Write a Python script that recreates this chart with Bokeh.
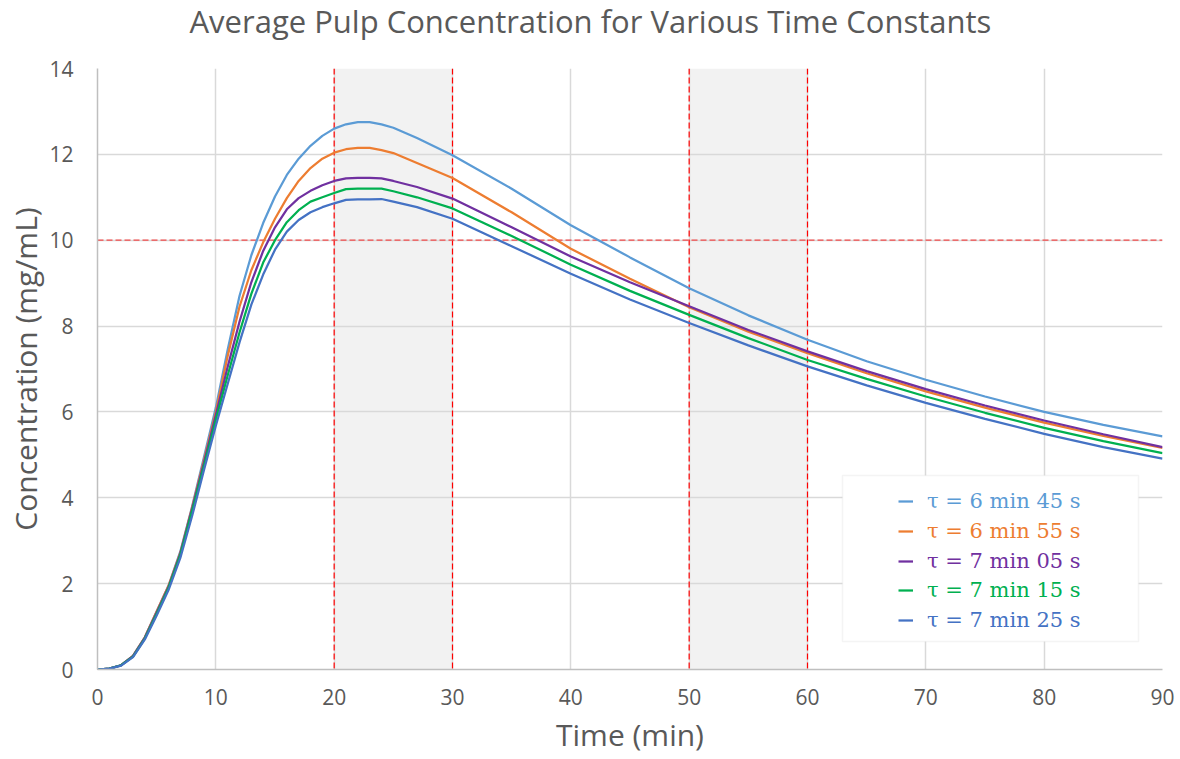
from bokeh.plotting import figure
from bokeh.models import Range1d, Span, BoxAnnotation, Legend, LegendItem, FixedTicker, Title
from bokeh.embed import file_html
from bokeh.resources import INLINE

# ---------------- data ----------------
time_min = [0, 1, 2, 3, 4, 5, 6, 7, 8, 9, 10, 11, 12, 13, 14, 15, 16, 17, 18, 19,
            20, 21, 22, 23, 24, 25, 27, 30, 35, 40, 45, 50, 55, 60, 65, 70, 75, 80, 85, 90]

tau_6m45s = [0, 0.02, 0.1, 0.32, 0.75, 1.35, 1.95, 2.75, 3.8, 4.95, 6.1, 7.45, 8.7, 9.65, 10.4,
             11.02, 11.52, 11.9, 12.2, 12.43, 12.6, 12.7, 12.75, 12.75, 12.7, 12.62, 12.38, 11.98,
             11.2, 10.35, 9.6, 8.88, 8.25, 7.68, 7.18, 6.75, 6.36, 6.0, 5.7, 5.43]
tau_6m55s = [0, 0.02, 0.1, 0.32, 0.75, 1.35, 1.95, 2.72, 3.78, 4.88, 6.0, 7.3, 8.45, 9.3, 9.95,
             10.5, 10.98, 11.38, 11.68, 11.9, 12.04, 12.12, 12.15, 12.15, 12.1, 12.03, 11.8, 11.45,
             10.65, 9.8, 9.1, 8.44, 7.87, 7.37, 6.9, 6.48, 6.1, 5.75, 5.44, 5.16]
tau_7m05s = [0, 0.02, 0.1, 0.31, 0.74, 1.33, 1.92, 2.7, 3.75, 4.82, 5.92, 7.05, 8.1, 9.02, 9.75,
             10.3, 10.72, 10.98, 11.15, 11.28, 11.38, 11.44, 11.45, 11.45, 11.44, 11.38, 11.24, 10.97,
             10.3, 9.62, 9.02, 8.46, 7.91, 7.41, 6.95, 6.53, 6.15, 5.8, 5.48, 5.18]
tau_7m15s = [0, 0.02, 0.1, 0.3, 0.72, 1.3, 1.9, 2.67, 3.7, 4.75, 5.82, 6.85, 7.85, 8.75, 9.48,
             10.0, 10.42, 10.7, 10.9, 11.0, 11.1, 11.19, 11.2, 11.2, 11.2, 11.14, 11.0, 10.74,
             10.1, 9.43, 8.82, 8.26, 7.72, 7.21, 6.77, 6.36, 5.98, 5.63, 5.32, 5.04]
tau_7m25s = [0, 0.02, 0.09, 0.29, 0.7, 1.26, 1.85, 2.6, 3.58, 4.65, 5.68, 6.65, 7.62, 8.5, 9.2,
             9.78, 10.2, 10.47, 10.65, 10.77, 10.86, 10.94, 10.95, 10.95, 10.96, 10.9, 10.77, 10.5,
             9.86, 9.22, 8.62, 8.07, 7.55, 7.06, 6.62, 6.21, 5.84, 5.49, 5.18, 4.91]

series_labels = ["τ = 6 min 45 s", "τ = 6 min 55 s", "τ = 7 min 05 s",
                 "τ = 7 min 15 s", "τ = 7 min 25 s"]
series_values = [tau_6m45s, tau_6m55s, tau_7m05s, tau_7m15s, tau_7m25s]
series_colors = ["#5B9BD5", "#ED7D31", "#7030A0", "#00B050", "#4472C4"]

x_ticks = [0, 10, 20, 30, 40, 50, 60, 70, 80, 90]
y_ticks = [0, 2, 4, 6, 8, 10, 12, 14]

band_starts = [20, 50]
band_ends = [30, 60]
ref_times = [20, 30, 50, 60]
ref_concentration = 10

title_text = "Average Pulp Concentration for Various Time Constants"

TEXT = "#595959"
GRID = "#d9d9d9"

# ---------------- figure ----------------
p = figure(width=1180, height=759, output_backend="svg", toolbar_location=None,
           title=None,
           x_range=Range1d(0, 90), y_range=Range1d(0, 14),
           min_border_left=97, min_border_right=18, min_border_top=68, min_border_bottom=90)
p.outline_line_color = None
p.background_fill_color = "white"
p.border_fill_color = "white"

# spacer between frame and title, then the title itself (further out)
p.add_layout(Title(text=" ", text_font_size="10px", standoff=20), "above")
p.add_layout(Title(text=title_text, align="left", offset=92, standoff=-12,
                   text_font="Open Sans", text_font_size="31px", text_font_style="normal",
                   text_color=TEXT), "above")

for ax in (p.xaxis, p.yaxis):
    ax.major_tick_line_color = None
    ax.minor_tick_line_color = None
    ax.major_tick_out = 0
    ax.major_tick_in = 0
    ax.axis_line_color = "#bfbfbf"
    ax.axis_line_width = 1.5
    ax.major_label_text_font = "Open Sans"
    ax.major_label_text_font_size = "21px"
    ax.major_label_text_color = TEXT
    ax.axis_label_text_font = "Open Sans"
    ax.axis_label_text_font_size = "30px"
    ax.axis_label_text_font_style = "normal"
    ax.axis_label_text_color = TEXT

p.xaxis.ticker = FixedTicker(ticks=x_ticks)
p.yaxis.ticker = FixedTicker(ticks=y_ticks)
p.xaxis.axis_label = "Time (min)"
p.yaxis.axis_label = "Concentration (mg/mL)"
p.xaxis.major_label_standoff = 19
p.yaxis.major_label_standoff = 24
p.xaxis.axis_label_standoff = 6
p.yaxis.axis_label_standoff = 0

p.xgrid.ticker = FixedTicker(ticks=x_ticks)
p.ygrid.ticker = FixedTicker(ticks=y_ticks)
for g in (p.xgrid, p.ygrid):
    g.grid_line_color = GRID
    g.grid_line_width = 1.5

# shaded bands
for a, b in zip(band_starts, band_ends):
    p.add_layout(BoxAnnotation(left=a, right=b, fill_color="#f2f2f2", fill_alpha=1.0,
                               line_color=None, level="image"))

# reference lines
for t in ref_times:
    p.add_layout(Span(location=t, dimension="height", line_color="#ff0000",
                      line_dash="6 3", line_width=1.2, level="underlay"))
p.add_layout(Span(location=ref_concentration, dimension="width", line_color="#f04848",
                  line_dash="6 3", line_width=1.2, level="underlay"))

renderers = []
for vals, col in zip(series_values, series_colors):
    r = p.line(time_min, vals, line_color=col, line_width=2.25)
    renderers.append(r)

# legend box
p.add_layout(BoxAnnotation(left=745, right=1041, bottom=28, top=194,
                           left_units="screen", right_units="screen",
                           bottom_units="screen", top_units="screen",
                           fill_color="white", fill_alpha=1.0,
                           line_color=GRID, line_width=1.5))

row_bottoms = [156, 126, 96, 67, 37]
for lab, r, col, yb in zip(series_labels, renderers, series_colors, row_bottoms):
    leg = Legend(items=[LegendItem(label=lab, renderers=[r])], location=(801, yb),
                 orientation="vertical", border_line_color=None, background_fill_alpha=0,
                 padding=0, margin=0, spacing=0, glyph_width=15, glyph_height=20,
                 label_standoff=14, label_height=20,
                 label_text_font="DejaVu Serif", label_text_font_size="21px",
                 label_text_color=col)
    p.add_layout(leg)

open("out.html", "w").write(file_html(p, INLINE))
